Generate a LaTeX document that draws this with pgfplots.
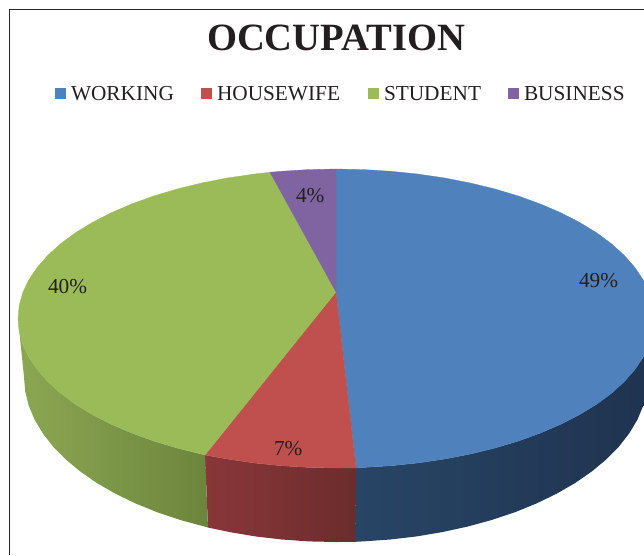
\documentclass[border=0pt]{standalone}
\usepackage{pgfplots}
\pgfplotsset{compat=1.18}
\usepackage{fontspec}
\setmainfont{Liberation Serif}
\definecolor{cblue}{HTML}{4F81BD}
\definecolor{cred}{HTML}{C0504D}
\definecolor{cgreen}{HTML}{9BBB59}
\definecolor{cpurple}{HTML}{8064A2}
\definecolor{txt}{HTML}{231F20}
\definecolor{HTMLa}{HTML}{284566}
\definecolor{HTMLb}{HTML}{1F334F}
\definecolor{HTMLc}{HTML}{893739}
\definecolor{HTMLd}{HTML}{6C2C2C}
\definecolor{HTMLe}{HTML}{8CA753}
\definecolor{HTMLf}{HTML}{6C853C}
\newcommand{\legfont}{\fontsize{21.3}{24}\selectfont\color{txt}}
\tikzset{tx/.style={anchor=base west, inner sep=0pt, outer sep=0pt}}
\begin{document}
\begin{tikzpicture}
\useasboundingbox (0pt,0pt) rectangle (644pt,555pt);
\begin{axis}[
  at={(0pt,0pt)}, anchor=south west,
  width=644pt, height=555pt, scale only axis,
  xmin=0, xmax=644, ymin=0, ymax=555, y dir=reverse,
  hide axis, clip=true,
]
% frame
\addplot[draw=black!85, line width=1.1pt] coordinates {(9.5,555) (9.5,9.5) (644,9.5)};
% side walls
\addplot[draw=none, left color=HTMLa, middle color=HTMLb, right color=HTMLb] coordinates {
 (356,467.9) (363.7,467.4) (391.2,465.7) (418.3,462.9) (444.8,459.0) (470.4,454.0) (495.0,448.0) (518.4,441.0) (540.4,433.0) (560.9,424.2) (579.6,414.6) (596.5,404.3) (611.4,393.3) (624.2,381.7) (634.8,369.6) (643.2,357.2) (649.2,344.5) (652.8,331.5) (654,318.5)
 (648,377) (646.8,391.4) (643.3,405.6) (637.4,419.7) (629.2,433.4) (618.8,446.7) (606.2,459.5) (591.6,471.6) (575.0,483.1) (556.6,493.7) (536.6,503.4) (515.0,512.2) (492.0,519.9) (467.9,526.5) (442.7,532.0) (416.7,536.4) (390.2,539.5) (363.2,541.4) (355,541.8)} -- cycle;
\addplot[draw=none, left color=HTMLc, right color=HTMLd] coordinates {
 (205,455) (227.2,459.0) (253.7,462.9) (280.8,465.7) (308.3,467.4) (336,468) (356,467.9)
 (355,541.8) (336,542) (308.8,541.4) (281.8,539.5) (255.3,536.4) (229.3,532.0) (208,527.5)} -- cycle;
\addplot[draw=none, left color=HTMLe, right color=HTMLf] coordinates {
 (18,318.5) (19.2,331.5) (22.8,344.5) (28.8,357.2) (37.2,369.6) (47.8,381.7) (60.6,393.3) (75.5,404.3) (92.4,414.6) (111.1,424.2) (131.6,433.0) (153.6,441.0) (177.0,448.0) (205,455)
 (208,527.5) (180.0,519.9) (157.0,512.2) (135.4,503.4) (115.4,493.7) (97.0,483.1) (80.4,471.6) (65.8,459.5) (53.2,446.7) (42.8,433.4) (34.6,419.7) (28.7,405.6) (25.2,391.4) (24,377)} -- cycle;
% top faces
\addplot[fill=cblue, draw=cblue, line width=0.3pt] coordinates {
 (336,292) (336,169.0) (363.7,169.6) (391.2,171.3) (418.3,174.1) (444.8,178.0) (470.4,183.0) (495.0,189.0) (518.4,196.0) (540.4,204.0) (560.9,212.8) (579.6,222.4) (596.5,232.7) (611.4,243.7) (624.2,255.3) (634.8,267.4) (643.2,279.8) (649.2,292.5) (652.8,305.5) (654,318.5)
 (652.8,331.5) (649.2,344.5) (643.2,357.2) (634.8,369.6) (624.2,381.7) (611.4,393.3) (596.5,404.3) (579.6,414.6) (560.9,424.2) (540.4,433.0) (518.4,441.0) (495.0,448.0) (470.4,454.0) (444.8,459.0) (418.3,462.9) (391.2,465.7) (363.7,467.4) (356,467.9)} -- cycle;
\addplot[fill=cred, draw=cred, line width=0.3pt] coordinates {
 (336,292) (356,467.9) (336,468) (308.3,467.4) (280.8,465.7) (253.7,462.9) (227.2,459.0) (205,455)} -- cycle;
\addplot[fill=cgreen, draw=cgreen, line width=0.3pt] coordinates {
 (336,292) (205,455) (177.0,448.0) (153.6,441.0) (131.6,433.0) (111.1,424.2) (92.4,414.6) (75.5,404.3) (60.6,393.3) (47.8,381.7) (37.2,369.6) (28.8,357.2) (22.8,344.5) (19.2,331.5) (18,318.5) (19.2,305.5) (22.8,292.5) (28.8,279.8) (37.2,267.4) (47.8,255.3) (60.6,243.7) (75.5,232.7) (92.4,222.4) (111.1,212.8) (131.6,204.0) (153.6,196.0) (177.0,189.0) (201.6,183.0) (227.2,178.0) (253.7,174.1) (270,172.3)} -- cycle;
\addplot[fill=cpurple, draw=cpurple, line width=0.3pt] coordinates {
 (336,292) (270,172.3) (280.8,171.3) (308.3,169.6) (336,169.0)} -- cycle;
% legend keys
\addplot[fill=cblue, draw=none] coordinates {(55,88) (66,88) (66,99) (55,99)} -- cycle;
\addplot[fill=cred, draw=none] coordinates {(201,88) (212,88) (212,99) (201,99)} -- cycle;
\addplot[fill=cgreen, draw=none] coordinates {(368,88) (379,88) (379,99) (368,99)} -- cycle;
\addplot[fill=cpurple, draw=none] coordinates {(508,88) (519,88) (519,99) (508,99)} -- cycle;
% texts
\node[tx] at (axis cs:207,50) {\fontsize{38.6}{40}\selectfont\bfseries\color{txt}OCCUPATION};
\node[tx] at (axis cs:71,100) {\legfont WORKING};
\node[tx] at (axis cs:217,100) {\legfont HOUSEWIFE};
\node[tx] at (axis cs:384,100) {\legfont STUDENT};
\node[tx] at (axis cs:524,100) {\legfont BUSINESS};
\node[tx] at (axis cs:579,287) {\legfont 49\%};
\node[tx] at (axis cs:274,455) {\legfont 7\%};
\node[tx] at (axis cs:48,293) {\legfont 40\%};
\node[tx] at (axis cs:296,202) {\legfont 4\%};
\end{axis}
\end{tikzpicture}
\end{document}
